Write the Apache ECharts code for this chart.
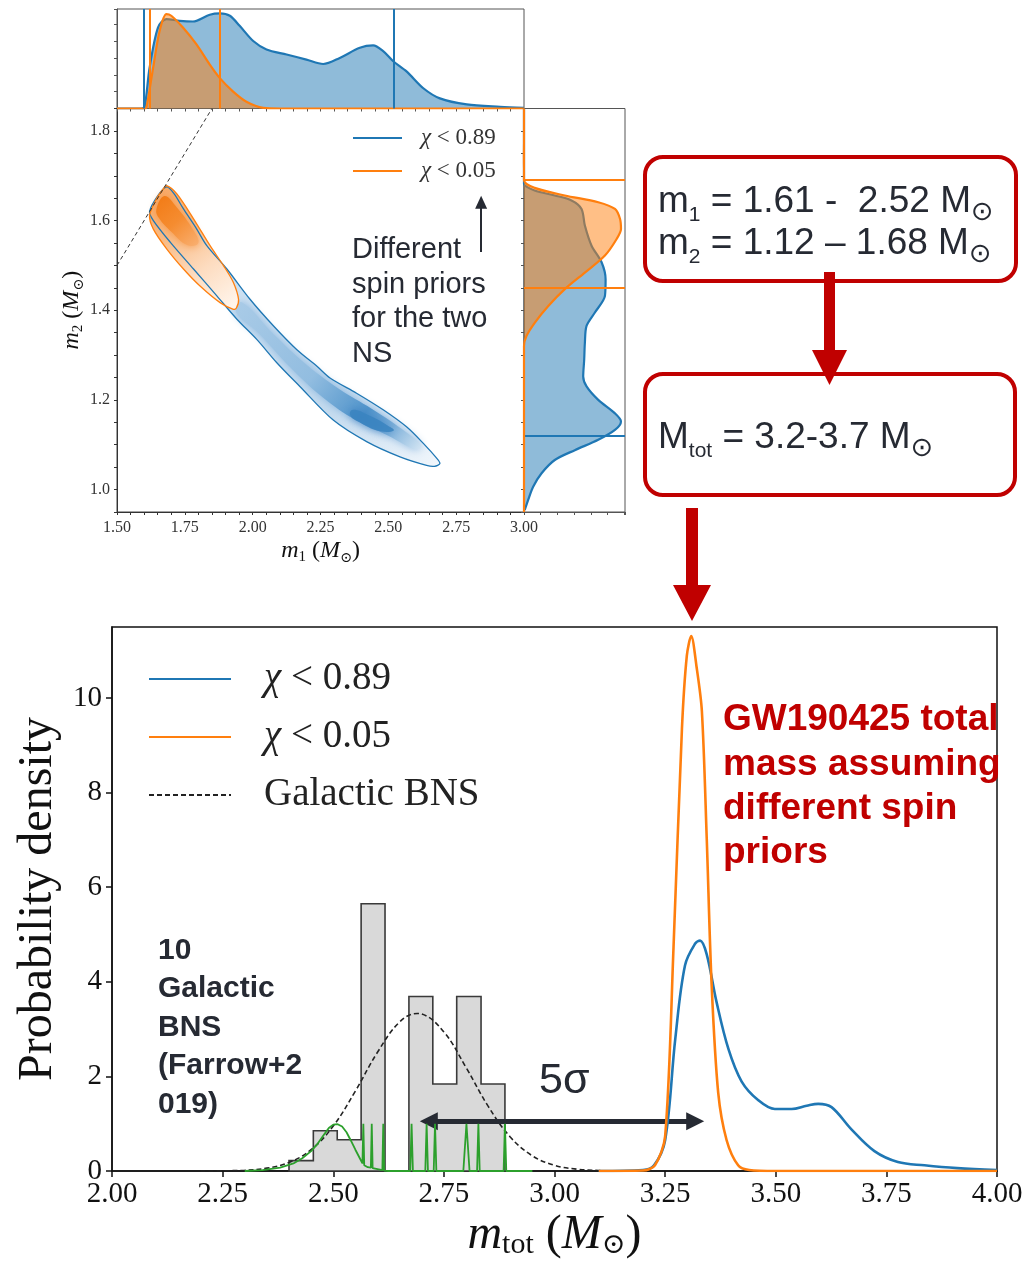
<!DOCTYPE html>
<html>
<head>
<meta charset="utf-8">
<script src="https://cdn.jsdelivr.net/npm/echarts@6.0.0/dist/echarts.min.js"></script>
<style>
html,body{margin:0;padding:0;background:#ffffff;}
#chart{width:1029px;height:1262px;}
</style>
</head>
<body>
<div id="chart"></div>
<script>
// ================= DATA =================
// Bottom panel: total-mass posteriors (m_tot, density)
const totBlueX = [3.10,3.20,3.225,3.25,3.273,3.295,3.318,3.329,3.344,3.366,3.393,3.423,3.46,3.498,3.536,3.57,3.596,3.626,3.671,3.723,3.776,3.836,3.91,4.00];
const totBlueY = [0,0.02,0.12,0.65,2.8,4.35,4.81,4.87,4.58,3.58,2.58,1.89,1.50,1.31,1.31,1.38,1.42,1.35,0.88,0.42,0.19,0.12,0.06,0.02];
const totOrangeX = [3.10,3.20,3.227,3.25,3.269,3.288,3.299,3.309,3.321,3.333,3.344,3.355,3.37,3.389,3.415,3.44,3.50,4.00];
const totOrangeY = [0,0.01,0.12,0.73,4.73,9.35,10.89,11.31,10.66,9.73,7.04,3.96,1.65,0.65,0.12,0.02,0,0];
// Galactic BNS population (dashed)
const bnsX = [2.20,2.25,2.30,2.35,2.40,2.45,2.50,2.55,2.60,2.65,2.69,2.70,2.75,2.80,2.85,2.90,2.95,3.00,3.05,3.10,3.15];
const bnsY = [0.00,0.004,0.017,0.06,0.18,0.45,0.95,1.69,2.51,3.15,3.33,3.32,2.94,2.19,1.37,0.72,0.32,0.12,0.04,0.01,0.00];
// Galactic BNS histogram
const histEdges = [2.400,2.455,2.509,2.563,2.617,2.671,2.725,2.779,2.834,2.888];
const histHeights = [0.22,0.85,0.66,5.65,0,3.69,1.84,3.69,1.84];
// individual Galactic BNS measurements (green)
const greenX = [2.30,2.34,2.38,2.41,2.43,2.45,2.465,2.48,2.49,2.50,2.51,2.52,2.53,2.54,2.55,2.56,2.566,2.568,2.570,2.578,2.585,2.587,2.589,2.600,2.611,2.613,2.615,2.625,2.674,2.677,2.680,2.708,2.711,2.714,2.727,2.730,2.733,2.794,2.801,2.808,2.825,2.828,2.831,2.885,2.888,2.891,2.95];
const greenY = [0,0.02,0.07,0.16,0.27,0.42,0.58,0.78,0.91,0.98,0.99,0.94,0.82,0.64,0.45,0.27,0.16,1.0,0.12,0.08,0.07,1.0,0.06,0.04,0.02,1.0,0.01,0,0,1.0,0,0,1.0,0,0,1.0,0,0,1.0,0,0,1.0,0,0,1.0,0,0];
const densityTicks = [0,2,4,6,8,10];

// Top marginal: m1 posteriors
const margM1Blue = [1.50,1.59,1.602,1.620,1.651,1.682,1.731,1.780,1.842,1.879,1.916,1.952,2.002,2.051,2.125,2.198,2.260,2.321,2.395,2.444,2.481,2.518,2.567,2.629,2.690,2.789,2.912,3.00];
const margDensBlue = [0,0,0.05,1.2,2.4,2.65,2.6,2.58,2.78,2.82,2.75,2.45,2.0,1.75,1.6,1.45,1.32,1.5,1.8,1.87,1.7,1.4,1.1,0.6,0.3,0.12,0.05,0.02];
const margM1Orange = [1.50,1.60,1.608,1.633,1.657,1.682,1.700,1.743,1.793,1.842,1.879,1.928,1.977,2.039,2.10,3.00];
const margDensOrange = [0,0,0.02,1.2,2.3,2.8,2.75,2.4,1.9,1.3,0.9,0.5,0.2,0.02,0,0];
const m1QuantBlue = [1.605,2.518];
const m1QuantOrange = [1.617,1.879];

// Right marginal: m2 posteriors
const rmM2Blue = [0.954,0.976,1.006,1.036,1.066,1.088,1.111,1.133,1.152,1.170,1.200,1.230,1.252,1.290,1.327,1.365,1.395,1.432,1.469,1.507,1.544,1.589,1.626,1.645,1.656,1.667,1.682,1.70,1.85];
const rmDensBlue = [0.02,0.12,0.27,0.52,0.92,1.52,2.22,2.72,2.9,2.72,2.22,1.87,1.77,1.8,1.82,1.87,2.12,2.42,2.44,2.32,2.02,1.82,1.72,1.42,0.92,0.32,0,0,0];
const rmM2Orange = [0.95,1.30,1.320,1.342,1.372,1.409,1.447,1.484,1.522,1.559,1.581,1.604,1.626,1.641,1.656,1.673,1.690,1.85];
const rmDensOrange = [0,0,0,0.07,0.32,0.72,1.22,1.82,2.42,2.77,2.9,2.87,2.72,2.22,1.22,0.32,0,0];
const m2QuantBlue = [1.123,1.686];
const m2QuantOrange = [1.452,1.693];

// 2D (m1, m2) credible contours
const blueContM1 = [1.620,1.650,1.683,1.710,1.745,1.790,1.831,1.905,1.991,2.077,2.163,2.237,2.285,2.383,2.481,2.567,2.629,2.678,2.690,2.670,2.641,2.543,2.420,2.297,2.174,2.089,2.015,1.942,1.868,1.782,1.696,1.634];
const blueContM2 = [1.620,1.655,1.675,1.660,1.626,1.585,1.544,1.492,1.424,1.365,1.312,1.275,1.249,1.215,1.178,1.140,1.103,1.070,1.058,1.052,1.054,1.073,1.107,1.155,1.230,1.283,1.335,1.380,1.432,1.492,1.552,1.600];
const blueCoreM1 = [1.96,2.08,2.20,2.32,2.44,2.55,2.62,2.60,2.50,2.38,2.26,2.14,2.02,1.94];
const blueCoreM2 = [1.418,1.345,1.278,1.224,1.180,1.135,1.098,1.090,1.120,1.155,1.205,1.272,1.350,1.395];
const blueSpotM1 = [2.37,2.43,2.50,2.52,2.47,2.40,2.36];
const blueSpotM2 = [1.178,1.165,1.142,1.132,1.130,1.148,1.165];
const orangeContM1 = [1.620,1.646,1.671,1.683,1.720,1.782,1.843,1.893,1.929,1.948,1.940,1.929,1.880,1.806,1.745,1.683,1.634];
const orangeContM2 = [1.611,1.649,1.671,1.678,1.660,1.604,1.544,1.499,1.462,1.424,1.405,1.402,1.417,1.454,1.492,1.537,1.581];
const orangeCoreM1 = [1.645,1.675,1.72,1.78,1.80,1.76,1.70,1.655];
const orangeCoreM2 = [1.625,1.655,1.630,1.580,1.550,1.545,1.575,1.605];
const equalMassLine = [1.5,1.85];

// ================= STYLE =================
const SERIF = '"Liberation Serif", "DejaVu Serif", serif';
const SANS = '"Liberation Sans", Arial, sans-serif';
const C_BLUE = '#1f77b4', C_ORANGE = '#ff7f0e', C_TEXT = '#262a33', C_RED = '#c00000';
const zip = (a, b) => a.map((v, i) => [v, b[i]]);
const isMult = (v, s) => Math.abs(v / s - Math.round(v / s)) < 1e-6;
const LG = echarts.graphic.LinearGradient;

function hiddenAxis(gridIndex, min, max, interval) {
  return { gridIndex, type: 'value', min, max, interval,
    axisLabel: { show: false },
    axisTick: { show: true, length: 3, lineStyle: { color: '#555' } },
    axisLine: { show: true, lineStyle: { color: '#555', width: 1 } },
    splitLine: { show: false } };
}
function polyFrom(api, xs, ys) { return xs.map((x, i) => api.coord([x, ys[i]])); }

const nameRich = (fs, sub, lh) => ({
  m: { fontFamily: SERIF, fontStyle: 'italic', fontSize: fs, lineHeight: fs * lh, verticalAlign: 'middle', color: '#111' },
  p: { fontFamily: SERIF, fontSize: fs, lineHeight: fs * lh, verticalAlign: 'middle', color: '#111' },
  s: { fontFamily: SERIF, fontSize: sub, lineHeight: sub, verticalAlign: 'bottom', color: '#111' },
  o: { fontFamily: '"DejaVu Serif", serif', fontSize: sub * 0.95, lineHeight: sub, verticalAlign: 'bottom', color: '#111' }
});
const boxRich = {
  a: { fontFamily: SANS, fontSize: 37, lineHeight: 48, verticalAlign: 'middle', fill: C_TEXT },
  b: { fontFamily: SANS, fontSize: 21, lineHeight: 21, verticalAlign: 'bottom', fill: C_TEXT },
  c: { fontFamily: '"DejaVu Sans", sans-serif', fontSize: 27, lineHeight: 27, verticalAlign: 'bottom', fill: C_TEXT }
};
const gridBase = { show: true, backgroundColor: 'transparent', containLabel: false, outerBoundsMode: 'none' };

const chart = echarts.init(document.getElementById('chart'), null, { renderer: 'canvas' });

const option = {
  animation: false,
  backgroundColor: '#ffffff',
  grid: [
    Object.assign({ left: 117, top: 9, width: 407, height: 99.5, borderColor: '#555', borderWidth: 1 }, gridBase),
    Object.assign({ left: 117, top: 108.5, width: 407, height: 403.5, borderColor: '#444', borderWidth: 1 }, gridBase),
    Object.assign({ left: 524, top: 108.5, width: 101, height: 403.5, borderColor: '#555', borderWidth: 1 }, gridBase),
    Object.assign({ left: 112, top: 627, width: 885, height: 544, borderColor: '#111', borderWidth: 1.5 }, gridBase)
  ],
  xAxis: [
    hiddenAxis(0, 1.5, 3.0, 0.05),
    { gridIndex: 1, type: 'value', min: 1.5, max: 3.0, interval: 0.05,
      axisLabel: { interval: 0, formatter: v => isMult(v, 0.25) ? v.toFixed(2) : '', fontFamily: SERIF, fontSize: 16, color: '#333', margin: 8 },
      axisTick: { length: 3, lineStyle: { color: '#333' } },
      axisLine: { lineStyle: { color: '#333', width: 1 } },
      splitLine: { show: false },
      name: '{m|m}{s|1}{p| (}{m|M}{o|⊙}{p|)}', nameLocation: 'middle', nameGap: 24,
      nameTextStyle: { rich: nameRich(24, 15, 1.2) } },
    hiddenAxis(2, 0, 3.02, 0.5),
    { gridIndex: 3, type: 'value', min: 2, max: 4, interval: 0.25,
      axisLabel: { formatter: v => v.toFixed(2), fontFamily: SERIF, fontSize: 29, color: '#111', margin: 9 },
      axisTick: { length: 6, lineStyle: { color: '#111', width: 1.5 } },
      axisLine: { lineStyle: { color: '#111', width: 1.5 } },
      splitLine: { show: false },
      name: '{m|m}{s|tot}{p| (}{m|M}{o|⊙}{p|)}', nameLocation: 'middle', nameGap: 39,
      nameTextStyle: { rich: nameRich(48, 30, 1.05) } }
  ],
  yAxis: [
    hiddenAxis(0, 0, 2.95, 0.5),
    { gridIndex: 1, type: 'value', min: 0.95, max: 1.85, interval: 0.05,
      axisLabel: { interval: 0, formatter: v => isMult(v, 0.2) ? v.toFixed(1) : '', fontFamily: SERIF, fontSize: 16, color: '#333', margin: 7 },
      axisTick: { length: 3, lineStyle: { color: '#333' } },
      axisLine: { lineStyle: { color: '#333', width: 1 } },
      splitLine: { show: false },
      name: '{m|m}{s|2}{p| (}{m|M}{o|⊙}{p|)}', nameLocation: 'middle', nameGap: 31,
      nameTextStyle: { rich: nameRich(24, 15, 1.2) } },
    hiddenAxis(2, 0.95, 1.85, 0.05),
    { gridIndex: 3, type: 'value', min: 0, max: 11.5, interval: 2,
      axisLabel: { customValues: densityTicks, formatter: v => String(v), fontFamily: SERIF, fontSize: 29, color: '#111', margin: 10 },
      axisTick: { customValues: densityTicks, length: 6, lineStyle: { color: '#111', width: 1.5 } },
      axisLine: { lineStyle: { color: '#111', width: 1.5 } },
      splitLine: { show: false },
      name: 'Probability density', nameLocation: 'middle', nameGap: 42,
      nameTextStyle: { fontFamily: SERIF, fontSize: 48, color: '#111' } }
  ],
  legend: [
    { data: ['χ < 0.89', 'χ < 0.05', 'Galactic BNS'], orient: 'vertical', left: 148, top: 657, padding: 0,
      itemWidth: 82, itemHeight: 14, itemGap: 14, selectedMode: false,
      itemStyle: { opacity: 0 },
      formatter: n => n.replace('χ', '{i|χ}'),
      textStyle: { fontFamily: SERIF, fontSize: 39, lineHeight: 44, color: '#222', padding: [0, 0, 0, 28],
        rich: { i: { fontFamily: SERIF, fontStyle: 'italic', fontSize: 39, lineHeight: 44, color: '#222' } } } },
    { data: ['χ < 0.89', 'χ < 0.05'], orient: 'vertical', left: 352, top: 125, padding: 0,
      itemWidth: 49, itemHeight: 10, itemGap: 7, selectedMode: false,
      itemStyle: { opacity: 0 },
      formatter: n => n.replace('χ', '{i|χ}'),
      textStyle: { fontFamily: SERIF, fontSize: 23, lineHeight: 26, color: '#333', padding: [0, 0, 0, 14],
        rich: { i: { fontFamily: SERIF, fontStyle: 'italic', fontSize: 23, lineHeight: 26, color: '#333' } } } }
  ],
  series: [
    // ---------- bottom panel ----------
    { name: 'χ < 0.89', type: 'line', xAxisIndex: 3, yAxisIndex: 3, data: zip(totBlueX, totBlueY),
      smooth: 0.35, symbol: 'none', z: 5, lineStyle: { color: C_BLUE, width: 2.6 }, itemStyle: { color: C_BLUE } },
    { name: 'χ < 0.05', type: 'line', xAxisIndex: 3, yAxisIndex: 3, data: zip(totOrangeX, totOrangeY),
      smooth: 0.3, symbol: 'none', z: 6, lineStyle: { color: C_ORANGE, width: 2.6 }, itemStyle: { color: C_ORANGE } },
    { name: 'Galactic BNS', type: 'line', xAxisIndex: 3, yAxisIndex: 3, data: zip(bnsX, bnsY),
      smooth: 0.4, symbol: 'none', z: 4, lineStyle: { color: '#222', width: 1.6, type: [5, 3] }, itemStyle: { color: '#222' } },
    { name: 'hist', type: 'custom', xAxisIndex: 3, yAxisIndex: 3, z: 2, silent: true,
      data: [[histEdges[0], 0]],
      renderItem: (p, api) => {
        if (p.dataIndex !== 0) return null;
        const pts = [api.coord([histEdges[0], 0])];
        for (let i = 0; i < histHeights.length; i++) {
          pts.push(api.coord([histEdges[i], histHeights[i]]));
          pts.push(api.coord([histEdges[i + 1], histHeights[i]]));
        }
        pts.push(api.coord([histEdges[histEdges.length - 1], 0]));
        return { type: 'polygon', shape: { points: pts }, style: { fill: '#d9d9d9', stroke: '#3a3a3a', lineWidth: 1.6 } };
      } },
    { name: 'pulsars', type: 'line', xAxisIndex: 3, yAxisIndex: 3, data: zip(greenX, greenY),
      symbol: 'none', z: 7, lineStyle: { color: '#2ca02c', width: 1.8 },
      markLine: { silent: true, symbol: ['triangle', 'triangle'], symbolSize: [18, 18], label: { show: false },
        lineStyle: { color: C_TEXT, width: 5, type: 'solid' },
        data: [[{ coord: [2.716, 1.05] }, { coord: [3.318, 1.05] }]] } },

    // ---------- top marginal (m1) ----------
    { name: 'χ < 0.89', type: 'line', xAxisIndex: 0, yAxisIndex: 0, data: zip(margM1Blue, margDensBlue),
      smooth: 0.3, symbol: 'none', z: 2, lineStyle: { color: C_BLUE, width: 2.2 }, itemStyle: { color: C_BLUE },
      areaStyle: { color: 'rgba(31,119,180,0.5)', opacity: 1 },
      markLine: { silent: true, symbol: 'none', label: { show: false }, lineStyle: { color: C_BLUE, width: 2, type: 'solid' },
        data: m1QuantBlue.map(v => ({ xAxis: v })) } },
    { name: 'χ < 0.05', type: 'line', xAxisIndex: 0, yAxisIndex: 0, data: zip(margM1Orange, margDensOrange),
      smooth: 0.3, symbol: 'none', z: 3, lineStyle: { color: C_ORANGE, width: 2.2 }, itemStyle: { color: C_ORANGE },
      areaStyle: { color: 'rgba(255,127,14,0.5)', opacity: 1 },
      markLine: { silent: true, symbol: 'none', label: { show: false }, lineStyle: { color: C_ORANGE, width: 2, type: 'solid' },
        data: m1QuantOrange.map(v => ({ xAxis: v })) } },

    // ---------- 2D panel ----------
    { name: 'blueFill', type: 'custom', xAxisIndex: 1, yAxisIndex: 1, z: 2, silent: true,
      data: [[blueContM1[0], blueContM2[0]]],
      renderItem: (p, api) => {
        if (p.dataIndex !== 0) return null;
        return { type: 'group', children: [
          { type: 'polygon', shape: { points: polyFrom(api, blueContM1, blueContM2), smooth: 0.3 },
            style: { fill: new LG(0, 0, 1, 1, [{ offset: 0, color: '#d6e6f4' }, { offset: 0.7, color: '#c3daee' }, { offset: 1, color: '#f2f7fc' }]) } },
          { type: 'polygon', shape: { points: polyFrom(api, blueCoreM1, blueCoreM2), smooth: 0.4 },
            style: { fill: new LG(0, 0, 1, 1, [{ offset: 0, color: '#a9cbe7' }, { offset: 0.45, color: '#92bde0' }, { offset: 0.72, color: '#4f93ca' }, { offset: 0.85, color: '#7fb1da' }, { offset: 1, color: '#d3e5f3' }]),
              shadowBlur: 8, shadowColor: 'rgba(110,165,215,0.7)' } },
          { type: 'polygon', shape: { points: polyFrom(api, blueSpotM1, blueSpotM2), smooth: 0.5 },
            style: { fill: '#3a84c0', opacity: 0.85, shadowBlur: 10, shadowColor: 'rgba(50,120,190,0.8)' } }
        ] };
      } },
    { name: 'orangeFill', type: 'custom', xAxisIndex: 1, yAxisIndex: 1, z: 3, silent: true,
      data: [[orangeContM1[0], orangeContM2[0]]],
      renderItem: (p, api) => {
        if (p.dataIndex !== 0) return null;
        return { type: 'group', children: [
          { type: 'polygon', shape: { points: polyFrom(api, orangeContM1, orangeContM2), smooth: 0.3 },
            style: { fill: new LG(0, 0, 1, 1, [{ offset: 0, color: '#f7a663' }, { offset: 0.35, color: '#f9bb85' }, { offset: 0.65, color: '#fddcc0' }, { offset: 1, color: '#fff8f1' }]) } },
          { type: 'polygon', shape: { points: polyFrom(api, orangeCoreM1, orangeCoreM2), smooth: 0.4 },
            style: { fill: new LG(0, 0, 1, 1, [{ offset: 0, color: '#f27a14' }, { offset: 0.5, color: '#f58c30' }, { offset: 1, color: '#f9b072' }]),
              shadowBlur: 8, shadowColor: 'rgba(245,140,50,0.8)' } }
        ] };
      } },
    { name: 'blueCont', type: 'custom', xAxisIndex: 1, yAxisIndex: 1, z: 4, silent: true,
      data: [[blueContM1[0], blueContM2[0]]],
      renderItem: (p, api) => p.dataIndex !== 0 ? null : ({ type: 'polygon',
        shape: { points: polyFrom(api, blueContM1, blueContM2), smooth: 0.3 },
        style: { fill: 'none', stroke: C_BLUE, lineWidth: 1.3 } }) },
    { name: 'orangeCont', type: 'custom', xAxisIndex: 1, yAxisIndex: 1, z: 5, silent: true,
      data: [[orangeContM1[0], orangeContM2[0]]],
      renderItem: (p, api) => p.dataIndex !== 0 ? null : ({ type: 'polygon',
        shape: { points: polyFrom(api, orangeContM1, orangeContM2), smooth: 0.3 },
        style: { fill: 'none', stroke: C_ORANGE, lineWidth: 1.3 } }) },
    { name: 'equal', type: 'line', xAxisIndex: 1, yAxisIndex: 1, z: 6, symbol: 'none',
      data: [[equalMassLine[0], equalMassLine[0]], [equalMassLine[1], equalMassLine[1]]],
      lineStyle: { color: '#333', width: 1, type: [4, 3] },
      markLine: { silent: true, symbol: ['none', 'triangle'], symbolSize: [12, 13], label: { show: false },
        lineStyle: { color: C_TEXT, width: 2, type: 'solid' },
        data: [[{ coord: [2.842, 1.530] }, { coord: [2.842, 1.641] }]] } },

    // ---------- right marginal (m2) ----------
    { name: 'rmBlueFill', type: 'custom', xAxisIndex: 2, yAxisIndex: 2, z: 2, silent: true,
      data: [[rmDensBlue[0], rmM2Blue[0]]],
      renderItem: (p, api) => {
        if (p.dataIndex !== 0) return null;
        const pts = [api.coord([0, rmM2Blue[0]])].concat(polyFrom(api, rmDensBlue, rmM2Blue), [api.coord([0, rmM2Blue[rmM2Blue.length - 1]])]);
        return { type: 'polygon', shape: { points: pts, smooth: 0.3 }, style: { fill: 'rgba(31,119,180,0.5)' } };
      } },
    { name: 'χ < 0.89', type: 'line', xAxisIndex: 2, yAxisIndex: 2, z: 3, symbol: 'none', smooth: 0.3,
      data: zip(rmDensBlue, rmM2Blue), lineStyle: { color: C_BLUE, width: 2.2 }, itemStyle: { color: C_BLUE },
      markLine: { silent: true, symbol: 'none', label: { show: false }, lineStyle: { color: C_BLUE, width: 2, type: 'solid' },
        data: m2QuantBlue.map(v => ({ yAxis: v })) } },
    { name: 'rmOrangeFill', type: 'custom', xAxisIndex: 2, yAxisIndex: 2, z: 4, silent: true,
      data: [[rmDensOrange[0], rmM2Orange[0]]],
      renderItem: (p, api) => {
        if (p.dataIndex !== 0) return null;
        const pts = [api.coord([0, rmM2Orange[0]])].concat(polyFrom(api, rmDensOrange, rmM2Orange), [api.coord([0, rmM2Orange[rmM2Orange.length - 1]])]);
        return { type: 'polygon', shape: { points: pts, smooth: 0.3 }, style: { fill: 'rgba(255,127,14,0.5)' } };
      } },
    { name: 'χ < 0.05', type: 'line', xAxisIndex: 2, yAxisIndex: 2, z: 5, symbol: 'none', smooth: 0.3,
      data: zip(rmDensOrange, rmM2Orange), lineStyle: { color: C_ORANGE, width: 2.2 }, itemStyle: { color: C_ORANGE },
      markLine: { silent: true, symbol: 'none', label: { show: false }, lineStyle: { color: C_ORANGE, width: 2, type: 'solid' },
        data: m2QuantOrange.map(v => ({ yAxis: v })) } }
  ],
  graphic: [
    // boxes
    { type: 'rect', shape: { x: 645, y: 157, width: 371, height: 124, r: 18 }, style: { fill: 'none', stroke: C_RED, lineWidth: 4 } },
    { type: 'rect', shape: { x: 645, y: 374, width: 370, height: 121, r: 18 }, style: { fill: 'none', stroke: C_RED, lineWidth: 4 } },
    // red arrows
    { type: 'polygon', shape: { points: [[824, 272], [835, 272], [835, 350], [847, 350], [829.5, 385], [812, 350], [824, 350]] }, style: { fill: C_RED } },
    { type: 'polygon', shape: { points: [[686, 508], [698, 508], [698, 585], [711, 585], [692, 621], [673, 585], [686, 585]] }, style: { fill: C_RED } },
    // box texts
    { type: 'text', x: 658, y: 202, style: { text: '{a|m}{b|1}{a| = 1.61 -  2.52 M}{c|⊙}', verticalAlign: 'middle', rich: boxRich } },
    { type: 'text', x: 658, y: 244, style: { text: '{a|m}{b|2}{a| = 1.12 – 1.68 M}{c|⊙}', verticalAlign: 'middle', rich: boxRich } },
    { type: 'text', x: 658, y: 438, style: { text: '{a|M}{b|tot}{a| = 3.2-3.7 M}{c|⊙}', verticalAlign: 'middle', rich: boxRich } },
    // annotations
    { type: 'text', x: 352, y: 233, style: { text: 'Different\nspin priors\nfor the two\nNS', fontFamily: SANS, fontSize: 29, lineHeight: 34.5, fill: C_TEXT } },
    { type: 'text', x: 158, y: 931, style: { text: '10\nGalactic\nBNS\n(Farrow+2\n019)', fontFamily: SANS, fontWeight: 'bold', fontSize: 30, lineHeight: 38.5, fill: C_TEXT } },
    { type: 'text', x: 723, y: 698, style: { text: 'GW190425 total\nmass assuming\ndifferent spin\npriors', fontFamily: SANS, fontWeight: 'bold', fontSize: 37, lineHeight: 44.3, fill: C_RED } },
    { type: 'text', x: 539, y: 1081, style: { text: '5σ', fontFamily: SANS, fontSize: 43, verticalAlign: 'middle', fill: C_TEXT } }
  ]
};
chart.setOption(option);
</script>
</body>
</html>
